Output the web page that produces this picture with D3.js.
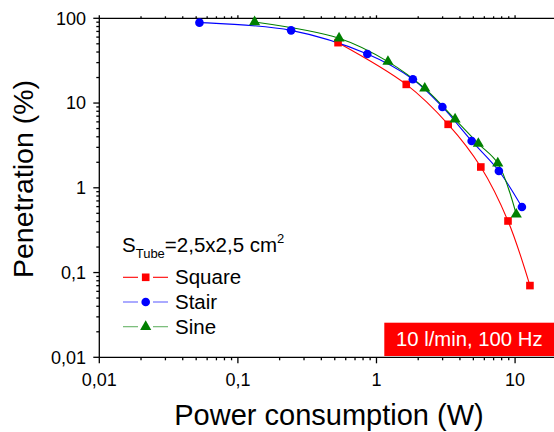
<!DOCTYPE html>
<html>
<head>
<meta charset="utf-8">
<script src="https://cdn.jsdelivr.net/npm/d3@7"></script>
<style>
html,body{margin:0;padding:0;background:#fff;}
svg{display:block;font-family:"Liberation Sans",Arial,sans-serif;}
</style>
</head>
<body>
<svg id="chart" width="554" height="432"></svg>
<script>
// ---- data ----
const squareX = [0.528, 1.64, 3.29, 5.66, 8.89, 12.8];
const squareY = [51.6, 16.6, 5.61, 1.76, 0.406, 0.0702];
const stairX = [0.0528, 0.242, 0.859, 1.83, 2.99, 4.86, 7.64, 11.2];
const stairY = [88.9, 72.1, 37.9, 19.1, 9.0, 3.57, 1.58, 0.594];
const sineX = [0.132, 0.537, 1.21, 2.23, 3.69, 5.43, 7.50, 10.2];
const sineY = [90.5, 58.1, 30.8, 14.9, 6.43, 3.32, 1.95, 0.486];
const xTickValues = [0.01, 0.1, 1, 10];
const xTickLabels = ["0,01", "0,1", "1", "10"];
const yTickValues = [0.01, 0.1, 1, 10, 100];
const yTickLabels = ["0,01", "0,1", "1", "10", "100"];
const seriesNames = ["Square", "Stair", "Sine"];
const seriesColors = ["#ff0000", "#0000ff", "#008000"];

(function () {
const svg = d3.select("#chart");
const pL = 99.3, pR = 556.8, pT = 18.3, pB = 357.3;
const x = d3.scaleLog().domain([0.01, 20]).range([pL, pR]);
const y = d3.scaleLog().domain([0.01, 100]).range([pB, pT]);

function minors(lo, hi) {
  const out = [];
  for (let e = Math.floor(Math.log10(lo)); e <= Math.ceil(Math.log10(hi)); e++) {
    for (let k = 1; k <= 9; k++) {
      const v = k * Math.pow(10, e);
      if (v >= lo * 0.9999 && v <= hi * 1.0001) out.push(v);
    }
  }
  return out;
}
const isMajor = v => xTickValues.concat(yTickValues).some(t => Math.abs(t - v) / t < 1e-6);
const xMin = minors(0.01, 20).filter(v => !isMajor(v));
const yMin = minors(0.01, 100).filter(v => !isMajor(v));

const axisG = svg.append("g").attr("stroke", "#000").attr("stroke-width", 1.3);
axisG.append("line").attr("x1", pL).attr("x2", 554).attr("y1", pB).attr("y2", pB);
axisG.append("line").attr("x1", pL).attr("x2", 554).attr("y1", pT).attr("y2", pT);
axisG.append("line").attr("x1", pL).attr("x2", pL).attr("y1", pT).attr("y2", pB);

axisG.selectAll(".xmaj").data(xTickValues).enter().append("line")
  .attr("x1", d => x(d)).attr("x2", d => x(d)).attr("y1", pB).attr("y2", pB + 6);
axisG.selectAll(".xmin").data(xMin).enter().append("line")
  .attr("x1", d => x(d)).attr("x2", d => x(d)).attr("y1", pB).attr("y2", pB + 3);
axisG.selectAll(".xtmin").data(xMin).enter().append("line")
  .attr("x1", d => x(d)).attr("x2", d => x(d)).attr("y1", pT).attr("y2", pT - 2);
axisG.selectAll(".xtmaj").data(xTickValues).enter().append("line")
  .attr("x1", d => x(d)).attr("x2", d => x(d)).attr("y1", pT).attr("y2", pT - 3);
axisG.selectAll(".ymaj").data(yTickValues).enter().append("line")
  .attr("x1", pL).attr("x2", pL - 6).attr("y1", d => y(d)).attr("y2", d => y(d));
axisG.selectAll(".ymin").data(yMin).enter().append("line")
  .attr("x1", pL).attr("x2", pL - 3).attr("y1", d => y(d)).attr("y2", d => y(d));

svg.selectAll(".xl").data(xTickValues).enter().append("text")
  .attr("x", d => x(d)).attr("y", 385.5).attr("text-anchor", "middle")
  .attr("font-size", 18).text((d, i) => xTickLabels[i]);
svg.selectAll(".yl").data(yTickValues).enter().append("text")
  .attr("x", 86).attr("y", d => y(d) + 6.3).attr("text-anchor", "end")
  .attr("font-size", 18).text((d, i) => yTickLabels[i]);

svg.append("text").attr("x", 329).attr("y", 425).attr("text-anchor", "middle")
  .attr("font-size", 29).text("Power consumption (W)");
svg.append("text").attr("transform", "translate(33,179) rotate(-90)")
  .attr("text-anchor", "middle").attr("font-size", 28.5).text("Penetration (%)");

const series = [
  {xs: squareX, ys: squareY, shape: d3.symbolSquare, size: 58},
  {xs: stairX, ys: stairY, shape: d3.symbolCircle, size: 58},
  {xs: sineX, ys: sineY, shape: d3.symbolTriangle, size: 54}
];
const line = d3.line().x(d => x(d[0])).y(d => y(d[1])).curve(d3.curveCatmullRom.alpha(0.5));
series.forEach((s, i) => {
  const pts = s.xs.map((v, j) => [v, s.ys[j]]);
  svg.append("path").datum(pts).attr("d", line).attr("fill", "none")
    .attr("stroke", seriesColors[i]).attr("stroke-width", 1.1);
});
series.forEach((s, i) => {
  const pts = s.xs.map((v, j) => [v, s.ys[j]]);
  svg.selectAll(".m" + i).data(pts).enter().append("path")
    .attr("d", d3.symbol().type(s.shape).size(s.size))
    .attr("transform", d => `translate(${x(d[0])},${y(d[1])})`)
    .attr("fill", seriesColors[i]);
});

const leg = svg.append("g");
const lt = leg.append("text").attr("x", 122).attr("y", 252).attr("font-size", 20.5);
lt.append("tspan").text("S");
lt.append("tspan").attr("font-size", 13).attr("dy", 6).text("Tube");
lt.append("tspan").attr("dy", -6).text("=2,5x2,5 cm");
lt.append("tspan").attr("font-size", 13).attr("dy", -9).text("2");
seriesNames.forEach((n, i) => {
  const cy = 277.3 + i * 24.7;
  [[123, 138], [153, 168]].forEach(seg => {
    leg.append("line").attr("x1", seg[0]).attr("x2", seg[1]).attr("y1", cy).attr("y2", cy)
      .attr("stroke", seriesColors[i]).attr("stroke-width", 1.1).attr("opacity", i === 0 ? 1 : 0.6);
  });
  leg.append("path").attr("d", d3.symbol().type(series[i].shape).size(series[i].size))
    .attr("transform", `translate(145.7,${cy})`).attr("fill", seriesColors[i]);
  leg.append("text").attr("x", 175).attr("y", cy + 7).attr("font-size", 20.5).text(n);
});

svg.append("rect").attr("x", 384.3).attr("y", 322.7).attr("width", 554 - 384.3).attr("height", 33.3)
  .attr("fill", "#ff0000");
svg.append("text").attr("x", 396).attr("y", 346).attr("font-size", 20.3).attr("fill", "#fff")
  .text("10 l/min, 100 Hz");
})();
</script>
</body>
</html>
